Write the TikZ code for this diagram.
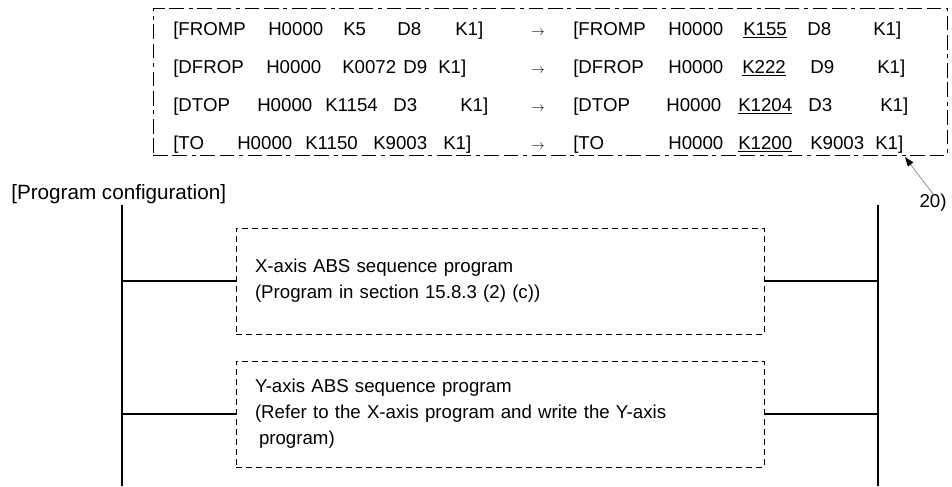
\documentclass[tikz,border=0pt]{standalone}
\usepackage{fontspec}
\setmainfont{Liberation Sans}
\usetikzlibrary{arrows.meta}

\newcommand{\cmdline}[3]{%
  \foreach \cx/\ct [count=\ci] in {#3}
    \node[cmd] (#1-\ci) at (\cx,#2) {\ct};}

\begin{document}
\begin{tikzpicture}[
  x=0.75pt,y=-0.75pt,
  cmd/.style={anchor=base west,inner sep=0pt,font=\fontsize{14}{17}\selectfont},
  chg/.style={inner sep=0pt,font=\fontsize{14}{17}\selectfont},
  cmdframe/.style={draw,line width=0.6pt,dash pattern=on 11pt off 3.5pt on 11pt off 3.5pt on 3pt off 3.5pt,
    minimum width=595.5pt,minimum height=110.25pt,inner sep=0pt},
  seqbox/.style={draw,line width=0.6pt,dash pattern=on 4.5pt off 3pt,
    minimum width=396pt,minimum height=79.5pt,text width=367.5pt,inner xsep=14.25pt,
    align=left,font=\fontsize{14}{19.5}\selectfont},
  rail/.style={line width=1.5pt},
  rung/.style={line width=1.2pt},
  pointer/.style={draw=gray,line width=0.5pt,-{Triangle[length=7pt,width=5pt,black]}}
]
\useasboundingbox (0,0) rectangle (952,486);

% changed instructions
\node[cmdframe] (frame) at (550,81.5) {};
\cmdline{old1}{35}{173/{[FROMP}, 268/H0000, 343/K5, 397/D8, 455/{K1]}}
\cmdline{old2}{73}{173/{[DFROP}, 266/H0000, 342/K0072, 403/D9, 438/{K1]}}
\cmdline{old3}{111}{173/{[DTOP}, 257/H0000, 325/K1154, 393/D3, 460/{K1]}}
\cmdline{old4}{149}{173/{[TO}, 237/H0000, 305/K1150, 373/K9003, 443/{K1]}}
\foreach \ry [count=\ri] in {33,71,109,147}
  \node[chg] (arr\ri) at (538,\ry) {$\scriptstyle\rightarrow$};
\cmdline{new1}{35}{573/{[FROMP}, 668/H0000, 743/\underline{K155}, 807/D8, 873/{K1]}}
\cmdline{new2}{73}{573/{[DFROP}, 668/H0000, 742/\underline{K222}, 810/D9, 877/{K1]}}
\cmdline{new3}{111}{573/{[DTOP}, 666/H0000, 738/\underline{K1204}, 808/D3, 880/{K1]}}
\cmdline{new4}{149}{573/{[TO}, 668/H0000, 738/\underline{K1200}, 810/K9003, 875/{K1]}}

\node[chg] (note) at (933,203) {20)};
\coordinate (tip) at (905,157);
\draw[pointer] (note.north) -- (tip);

% program configuration
\node[anchor=base west,inner sep=0pt,font=\fontsize{15.5}{18}\selectfont] (cfg) at (11,199) {[Program configuration]};

\coordinate (ltop) at (122,205);
\coordinate (lbot) at (122,486);
\coordinate (rtop) at (878,205);
\coordinate (rbot) at (878,486);
\draw[rail] (ltop) -- (lbot);
\draw[rail] (rtop) -- (rbot);

\node[seqbox] (xprog) at (500,281) {X-axis ABS sequence program\\(Program in section 15.8.3 (2) (c))};
\node[seqbox] (yprog) at (500,414) {Y-axis ABS sequence program\\(Refer to the X-axis program and write the Y-axis\\\hspace*{3pt}program)};

\draw[rung] (ltop |- xprog.west) -- (xprog.west);
\draw[rung] (xprog.east) -- (rtop |- xprog.east);
\draw[rung] (ltop |- yprog.west) -- (yprog.west);
\draw[rung] (yprog.east) -- (rtop |- yprog.east);
\end{tikzpicture}
\end{document}
